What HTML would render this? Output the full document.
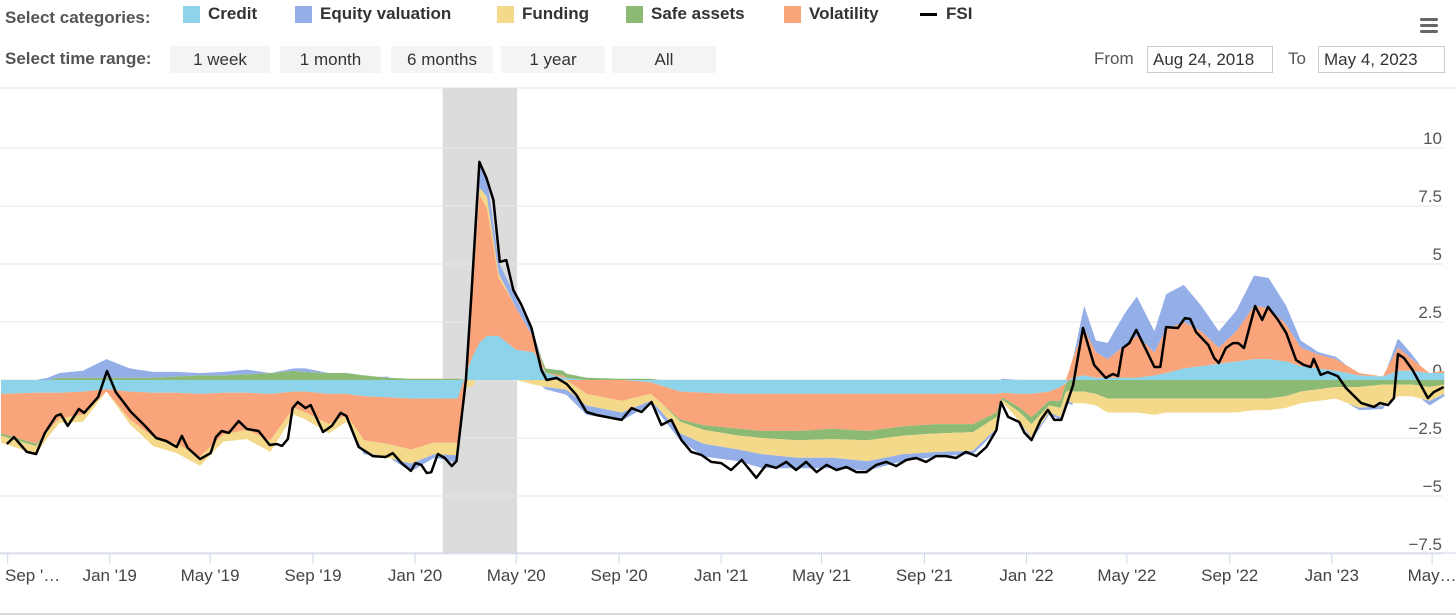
<!DOCTYPE html>
<html><head><meta charset="utf-8"><style>
body{margin:0;width:1456px;height:616px;background:#fff;font-family:"Liberation Sans",sans-serif;overflow:hidden;position:relative}
.lbl{position:absolute;color:#555;font-size:17px;font-weight:bold}
.leg{position:absolute;top:4px;font-size:17px;font-weight:bold;color:#333;display:flex;align-items:center}
.sw{width:17px;height:17px;margin-right:8px;display:inline-block}
.btn{position:absolute;top:46px;height:27px;background:#f4f4f4;font-size:17px;color:#333;text-align:center;line-height:27px}
.inp{position:absolute;top:46px;height:25px;border:1px solid #ccc;font-size:17px;color:#333;line-height:25px;padding:0 5px}
</style></head><body>
<div class="lbl" style="left:5px;top:8px">Select categories:</div>
<div class="leg" style="left:183px"><span class="sw" style="background:#8dd3ea"></span>Credit</div>
<div class="leg" style="left:295px"><span class="sw" style="background:#94aee8"></span>Equity valuation</div>
<div class="leg" style="left:497px"><span class="sw" style="background:#f4d98a"></span>Funding</div>
<div class="leg" style="left:626px"><span class="sw" style="background:#8cba75"></span>Safe assets</div>
<div class="leg" style="left:784px"><span class="sw" style="background:#f9a47a"></span>Volatility</div>
<div class="leg" style="left:920px"><span style="width:17px;height:3px;background:#000;margin-right:9px;display:inline-block"></span>FSI</div>
<div style="position:absolute;left:1420px;top:18px;width:18px"><div style="height:3px;background:#666;margin-bottom:3px;border-radius:2px"></div><div style="height:3px;background:#666;margin-bottom:3px;border-radius:2px"></div><div style="height:3px;background:#666;border-radius:2px"></div></div>
<div class="lbl" style="left:5px;top:49px">Select time range:</div>
<div class="btn" style="left:170px;width:100px">1 week</div>
<div class="btn" style="left:280px;width:101px">1 month</div>
<div class="btn" style="left:391px;width:102px">6 months</div>
<div class="btn" style="left:501px;width:104px">1 year</div>
<div class="btn" style="left:612px;width:104px">All</div>
<div style="position:absolute;left:1094px;top:49px;font-size:17px;color:#555">From</div>
<div class="inp" style="left:1147px;width:114px">Aug 24, 2018</div>
<div style="position:absolute;left:1288px;top:49px;font-size:17px;color:#555">To</div>
<div class="inp" style="left:1318px;width:115px">May 4, 2023</div>
<svg id="ch" width="1456" height="616" style="position:absolute;left:0;top:0"></svg>
<script>
// FSI line: weeks since 2018-08-24 and values
const fsiWeeks=[1,2.2,4.4,6,7.5,9.4,10.2,11.4,13.3,14.2,16.6,18.1,19.6,22.2,24.6,26.5,28.2,30,30.9,31.9,34,35.8,36.7,37.7,38.9,40.6,42,44,45.9,47.1,48,49,49.8,50.7,52,52.9,55,56.5,58,59,61.1,63.5,65.7,66.9,68.4,70,70.8,71.8,72.7,73.5,74.6,75.8,77,77.8,79.4,80.4,81.7,82.9,84.1,85.2,86.3,87.5,88.9,90.6,92.3,93.2,94.9,96.6,98.3,100,101.7,104.3,106,107.7,109.4,111.1,112.8,114.5,116.2,117.9,119.6,121.3,123,124.7,126.5,128.2,129,130.7,132.4,134.1,135.8,137.5,139.3,141,142.7,144.4,146.1,147.8,149.5,151.2,152.9,154.6,156.3,158,159.7,161.4,163.1,164.8,166.6,168.3,170,170.8,172,173.9,174.8,176,177.6,178.8,179.9,181.1,183.1,184.8,186.7,188.7,189.9,190.8,191.6,192.7,193.9,195.6,197,198,199,201,202.2,203.1,204.1,206.2,207.2,208,209.2,210.4,211.3,212.3,214.2,215.4,216.4,218.1,219.5,221.2,222.5,223.7,224.2,225.4,226.6,228.3,229.7,232.3,234.5,235.5,236.9,237.9,238.6,239.6,241.1,243.7,244.7,246.4];
const fsiValues=[-2.76,-2.46,-3.1,-3.19,-2.28,-1.55,-1.47,-1.98,-1.25,-1.42,-0.73,0.39,-0.52,-1.38,-1.98,-2.5,-2.63,-2.89,-2.41,-2.93,-3.41,-3.15,-2.46,-2.2,-2.28,-1.77,-2.11,-2.2,-2.8,-2.76,-2.84,-2.54,-1.21,-0.95,-1.21,-1.08,-2.24,-1.98,-1.42,-1.55,-2.89,-3.28,-3.32,-3.15,-3.58,-3.92,-3.58,-3.66,-4.01,-3.97,-3.19,-3.36,-3.71,-3.49,0,3.88,9.4,8.71,7.76,5.09,5.17,3.88,3.23,2.24,0.43,0,0.09,-0.17,-0.65,-1.38,-1.51,-1.64,-1.72,-1.21,-1.38,-0.95,-1.94,-1.72,-2.59,-3.1,-3.23,-3.53,-3.58,-3.88,-3.45,-3.97,-4.22,-3.66,-3.79,-3.53,-3.88,-3.53,-3.97,-3.66,-3.88,-3.75,-3.97,-3.97,-3.66,-3.53,-3.71,-3.45,-3.36,-3.53,-3.28,-3.28,-3.36,-3.1,-3.28,-2.89,-2.16,-0.95,-1.59,-1.81,-2.28,-2.59,-1.72,-1.29,-1.72,-1.72,-0.22,2.24,0.65,0.09,0.26,0.17,1.38,1.59,2.16,1.29,0.56,0.56,2.28,2.24,2.67,2.63,2.07,1.51,0.95,0.73,1.38,1.59,1.59,1.38,3.19,2.59,3.15,2.59,2.03,0.86,0.65,0.56,0.91,0.22,0.34,0.17,-0.34,-0.99,-1.16,-0.99,-1.08,-0.78,1.12,0.95,0.43,-0.78,-0.52,-0.3];
// Component contributions
const compWeeks=[0,6,10,14,18,22,26,30,34,38,42,46,50,52,56,59,62,66,70,74,78,79.5,80.5,81.7,83,85,88,91,93,96,100,106,111,116,120,126,130,136,142,148,154,160,166,170,171,174,176,179,181,183,185,187,189,192,194,197,199,202,205,208,211,214,216.5,219.5,222,225,228,232,236,238.6,241,244,246.5];
const credit=[-0.6,-0.55,-0.55,-0.5,-0.4,-0.5,-0.55,-0.55,-0.6,-0.55,-0.55,-0.6,-0.5,-0.5,-0.6,-0.6,-0.7,-0.75,-0.8,-0.8,-0.8,0.3,1,1.6,1.9,1.9,1.3,1.2,0.3,0.1,0,0,-0.1,-0.5,-0.55,-0.6,-0.6,-0.6,-0.6,-0.6,-0.6,-0.6,-0.6,-0.6,-0.55,-0.6,-0.6,-0.5,-0.3,0.1,0.2,0.1,0.1,0.1,0.1,0.2,0.3,0.5,0.6,0.7,0.8,0.9,0.9,0.8,0.6,0.5,0.4,0.2,0.15,0.4,0.4,0.3,0.3];
const volatility=[-1.7,-2.2,-1.1,-1,-0.1,-1.2,-1.9,-2.2,-2.7,-1.8,-1.6,-2,-0.7,-0.9,-1.3,-0.9,-1.9,-2,-2.2,-1.9,-1.9,0,2.8,6.4,5.5,2.5,1.8,0.6,0,0.1,-0.6,-0.9,-0.5,-1.2,-1.4,-1.5,-1.6,-1.6,-1.5,-1.6,-1.4,-1.3,-1.3,-0.8,-0.2,-0.6,-1,-0.4,-0.6,0.8,2,1.1,0.8,1.4,1.8,1,1.9,2,1.5,0.7,1.3,2.3,2.2,1.6,0.8,0.6,0.5,0.1,0,1,0.5,0,0.1];
const safeAssets=[-0.1,-0.1,0.1,0.1,0.1,0.1,0.1,0.15,0.2,0.2,0.25,0.3,0.4,0.35,0.3,0.3,0.2,0.1,0.05,0.05,0.05,0,0,0,0,0,0,0,0.2,0.2,0.1,0.05,0.05,-0.1,-0.2,-0.3,-0.3,-0.4,-0.45,-0.4,-0.4,-0.4,-0.35,-0.2,-0.1,-0.2,-0.3,-0.2,-0.3,-0.5,-0.5,-0.6,-0.8,-0.8,-0.8,-0.8,-0.8,-0.8,-0.8,-0.8,-0.8,-0.8,-0.8,-0.7,-0.5,-0.4,-0.3,-0.3,-0.2,-0.2,-0.2,-0.3,-0.2];
const funding=[-0.3,-0.35,-0.2,-0.3,0,-0.2,-0.4,-0.4,-0.4,-0.3,-0.4,-0.5,-0.3,-0.3,-0.4,-0.3,-0.5,-0.6,-0.6,-0.5,-0.55,-0.3,-0.3,0.3,0.5,0.2,0,-0.2,-0.3,-0.4,-0.5,-0.5,-0.3,-0.5,-0.6,-0.6,-0.7,-0.75,-0.8,-0.9,-0.8,-0.8,-0.8,-0.5,-0.1,-0.4,-0.6,-0.3,-0.4,-0.5,-0.5,-0.5,-0.6,-0.6,-0.6,-0.7,-0.6,-0.6,-0.6,-0.6,-0.6,-0.5,-0.5,-0.5,-0.5,-0.5,-0.5,-0.9,-0.9,-0.5,-0.5,-0.6,-0.4];
const equity=[0,0,0.2,0.3,0.8,0.4,0.25,0.2,0.1,0.15,0.2,0,0.1,0.15,0,0,-0.1,0.05,-0.35,-0.15,-0.3,0,0.4,1.1,0.8,0.5,0.4,0.2,-0.1,-0.2,-0.4,-0.35,-0.15,-0.3,-0.55,-0.5,-0.6,-0.45,-0.45,-0.4,-0.3,-0.2,-0.15,-0.1,0.05,0,-0.1,-0.1,-0.1,-0.1,1,0.5,0.7,1.4,1.7,0.9,1.5,1.6,1.1,0.7,0.9,1.3,1.3,0.8,0.3,0.1,0.1,-0.1,-0.15,0.4,0.2,-0.2,-0.1];
const yTicks=[10,7.5,5,2.5,0,-2.5,-5,-7.5];
const yTickLabels=["10","7.5","5","2.5","0","−2.5","−5","−7.5"];
const xTickDates=["2018-09-01","2019-01-01","2019-05-01","2019-09-01","2020-01-01","2020-05-01","2020-09-01","2021-01-01","2021-05-01","2021-09-01","2022-01-01","2022-05-01","2022-09-01","2023-01-01","2023-05-01"];
const xTickLabels=["Sep '…","Jan '19","May '19","Sep '19","Jan '20","May '20","Sep '20","Jan '21","May '21","Sep '21","Jan '22","May '22","Sep '22","Jan '23","May…"];
const recession=["2020-02-03","2020-05-02"];

const NS="http://www.w3.org/2000/svg";
const svg=document.getElementById('ch');
const T0=Date.UTC(2018,7,24);
const X=w=>1+w*5.855;
const XD=d=>{const p=d.split('-');return X((Date.UTC(+p[0],+p[1]-1,+p[2])-T0)/864e5/7);};
const Y=v=>380-v*23.2;
function mk(tag,attrs,parent){const e=document.createElementNS(NS,tag);for(const k in attrs)e.setAttribute(k,attrs[k]);(parent||svg).appendChild(e);return e;}
function interp(ws,vs,w){
  if(w<=ws[0])return vs[0];
  for(let i=1;i<ws.length;i++){if(w<=ws[i]){const t=(w-ws[i-1])/(ws[i]-ws[i-1]);return vs[i-1]+t*(vs[i]-vs[i-1]);}}
  return vs[vs.length-1];
}

const bg=mk('line',{x1:0,x2:1456,y1:88,y2:88,stroke:'#e6e6e6','stroke-width':1});


const rec=mk('rect',{x:XD(recession[0]),y:88,width:XD(recession[1])-XD(recession[0]),height:465,fill:'#dcdcdc'});


yTicks.forEach((v,i)=>{
  const g=mk('line',{x1:0,x2:1443,y1:Y(v),y2:Y(v),stroke:'#e6e6e6','stroke-width':1});
  
  
  const t=mk('text',{x:1442,y:Y(v)-4,'text-anchor':'end','font-size':17,fill:'#555'});
  t.textContent=yTickLabels[i];
  
  
});
// stacked areas on a fine sampling grid (avoids sign-change artifacts)
const series=[[credit,'#8dd3ea','credit-area'],[volatility,'#f9a47a','volatility-area'],[safeAssets,'#8cba75','safe-assets-area'],[funding,'#f4d98a','funding-area'],[equity,'#94aee8','equity-valuation-area']];
const grid=[];
for(let w=compWeeks[0];w<=compWeeks[compWeeks.length-1]+1e-9;w+=0.25)grid.push(w);
const posBase=grid.map(()=>0),negBase=grid.map(()=>0);
series.forEach(([arr,col,name])=>{
  const lo=[],hi=[];
  grid.forEach((w,i)=>{
    const v=interp(compWeeks,arr,w);
    if(v>=0){lo.push(posBase[i]);posBase[i]+=v;hi.push(posBase[i]);}
    else{lo.push(negBase[i]);negBase[i]+=v;hi.push(negBase[i]);}
  });
  let d='M'+grid.map((w,i)=>X(w).toFixed(1)+','+Y(hi[i]).toFixed(1)).join('L');
  for(let i=grid.length-1;i>=0;i--)d+='L'+X(grid[i]).toFixed(1)+','+Y(lo[i]).toFixed(1);
  const p=mk('path',{d:d+'Z',fill:col,stroke:'none'});
  
  
});
const fl=mk('polyline',{points:fsiWeeks.map((w,i)=>X(w).toFixed(1)+','+Y(fsiValues[i]).toFixed(1)).join(' '),fill:'none',stroke:'#000','stroke-width':2.5,'stroke-linejoin':'round'});


const ax=mk('line',{x1:0,x2:1456,y1:553,y2:553,stroke:'#ccd6eb','stroke-width':1});


xTickDates.forEach((d,i)=>{
  const x=XD(d);
  const tk=mk('line',{x1:x,x2:x,y1:553,y2:564,stroke:'#ccd6eb','stroke-width':1});
  
  
  const t=mk('text',{x:i==0?5:x,y:581,'text-anchor':i==0?'start':'middle','font-size':17,fill:'#444'});
  t.textContent=xTickLabels[i];
  
  
});
const nb=mk('line',{x1:0,x2:1456,y1:614,y2:614,stroke:'#ccc','stroke-width':1.5});


</script>
</body></html>
